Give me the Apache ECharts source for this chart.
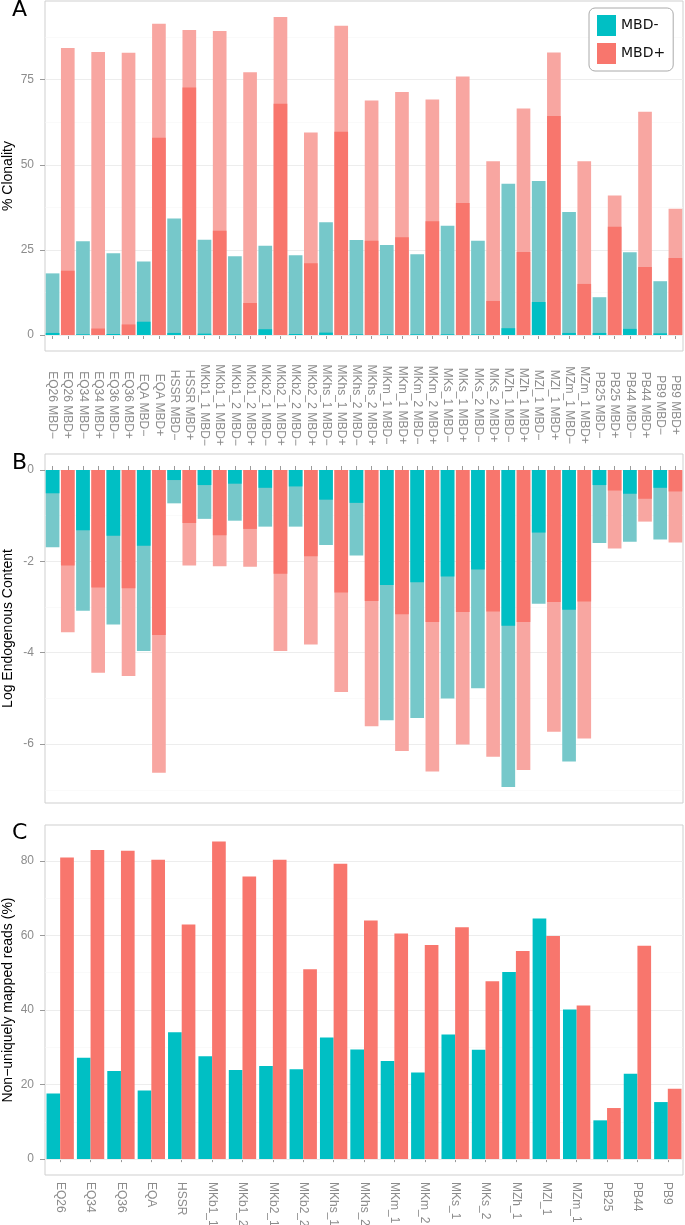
<!DOCTYPE html>
<html><head><meta charset="utf-8">
<script src="https://cdn.jsdelivr.net/npm/echarts@6/dist/echarts.min.js"></script>
<style>html,body{margin:0;padding:0;background:#fff}#c{width:685px;height:1225px}</style>
</head><body><div id="c"></div>
<script>
const samples = ['EQ26','EQ34','EQ36','EQA','HSSR','MKb1_1','MKb1_2','MKb2_1','MKb2_2','MKhs_1','MKhs_2','MKm_1','MKm_2','MKs_1','MKs_2','MZh_1','MZl_1','MZm_1','PB25','PB44','PB9'];

// Panel A: % Clonality (light = full bar, dark = overlaid lower part)
const clonLightMinus = [18.1,27.5,24.0,21.6,34.2,28.0,23.1,26.2,23.4,33.1,27.9,26.4,23.7,32.1,27.7,44.4,45.2,36.1,11.1,24.3,15.8];
const clonDarkMinus  = [0.6,0.2,0.3,3.9,0.6,0.4,0.2,1.7,0.3,0.7,0.2,0.2,0.2,0.2,0.2,2.0,9.7,0.6,0.6,1.8,0.5];
const clonLightPlus  = [84.3,83.1,82.9,91.4,89.6,89.3,77.2,93.4,59.5,90.8,68.9,71.4,69.2,75.9,51.0,66.5,83.0,51.0,41.0,65.6,37.1];
const clonDarkPlus   = [18.9,1.9,3.1,57.9,72.7,30.6,9.4,67.9,21.1,59.7,27.7,28.7,33.4,38.8,10.0,24.4,64.3,15.0,31.8,20.0,22.6];

// Panel B: Log Endogenous Content
const endoLightMinus = [-1.69,-3.08,-3.38,-3.96,-0.73,-1.07,-1.11,-1.24,-1.24,-1.64,-1.87,-5.48,-5.43,-5.00,-4.78,-6.94,-2.93,-6.38,-1.60,-1.57,-1.52];
const endoDarkMinus  = [-0.51,-1.32,-1.44,-1.66,-0.22,-0.33,-0.30,-0.39,-0.36,-0.65,-0.72,-2.52,-2.46,-2.33,-2.18,-3.41,-1.37,-3.06,-0.33,-0.52,-0.39];
const endoLightPlus  = [-3.55,-4.44,-4.51,-6.63,-2.09,-2.11,-2.12,-3.96,-3.82,-4.86,-5.61,-6.15,-6.60,-6.01,-6.28,-6.57,-5.73,-5.88,-1.72,-1.13,-1.59];
const endoDarkPlus   = [-2.09,-2.57,-2.59,-3.61,-1.16,-1.43,-1.29,-2.27,-1.89,-2.68,-2.87,-3.16,-3.33,-3.11,-3.10,-3.33,-2.89,-2.88,-0.45,-0.63,-0.47];

// Panel C: Non-uniquely mapped reads (%)
const nonUniqMinus = [17.6,27.2,23.6,18.4,34.0,27.6,23.9,25.0,24.1,32.6,29.4,26.3,23.2,33.4,29.3,50.2,64.5,40.1,10.4,22.9,15.3];
const nonUniqPlus  = [80.9,82.9,82.7,80.3,62.9,85.2,75.8,80.3,50.9,79.2,64.0,60.5,57.4,62.2,47.7,55.8,59.8,41.2,13.7,57.2,18.9];

// tick values
const aTicks = [0,25,50,75], aMinor = [12.5,37.5,62.5,87.5];
const bTicks = [0,-2,-4,-6], bMinor = [-1,-3,-5,-7];
const cTicks = [0,20,40,60,80], cMinor = [10,30,50,70];

const pairLabels = [];
samples.forEach(s => { pairLabels.push(s + ' MBD\u2212'); pairLabels.push(s + ' MBD+'); });
function asMinus(arr){ const o=[]; arr.forEach(v=>{o.push(v);o.push(null);}); return o; }
function asPlus(arr){ const o=[]; arr.forEach(v=>{o.push(null);o.push(v);}); return o; }

const TEAL='#00BFC4', RED='#F8766D', LTEAL='#76C8CA', LRED='#F8A6A1';
const GREY='#8c8c8c', FONT='Liberation Sans, Arial, sans-serif';

function gridLines(major, minor){
  return {silent:true, symbol:'none', z:1, animation:false, label:{show:false},
    data: major.map(v=>({yAxis:v, lineStyle:{color:'#ededed', width:1, type:'solid'}}))
      .concat(minor.map(v=>({yAxis:v, lineStyle:{color:'#f6f6f6', width:0.6, type:'solid'}})))};
}
function yAx(gi, min, max, ticks, name){
  return {type:'value', gridIndex:gi, min:min, max:max, name:name, nameLocation:'middle', nameGap:30,
    nameMoveOverlap:false,
    nameTextStyle:{color:'#000', fontSize:14, fontFamily:FONT},
    axisLine:{show:false},
    axisTick:{show:true, length:5, customValues:ticks, lineStyle:{color:'#9a9a9a'}},
    axisLabel:{customValues:ticks, color:GREY, fontSize:12, margin:11, fontFamily:FONT},
    splitLine:{show:false}};
}
function bar(name, xi, data, color, extra){
  return Object.assign({type:'bar', name:name, xAxisIndex:xi, yAxisIndex:xi, data:data, z:2,
    itemStyle:{color:color}, animation:false}, extra||{});
}
function grid(top, height){
  return {left:45, top:top, width:638, height:height, show:true, borderColor:'#cfcfcf', borderWidth:1,
    backgroundColor:'#fff', containLabel:false, outerBoundsMode:'none'};
}

const option = {
  backgroundColor:'#fff',
  animation:false,
  grid:[ grid(1, 350), grid(454, 349), grid(825, 350) ],
  legend:{data:['MBD-','MBD+'], orient:'vertical', left:589, top:8, padding:[7,8,7,8], itemGap:7,
    itemWidth:19, itemHeight:21, icon:'rect', borderColor:'#aaa', borderWidth:1, borderRadius:6,
    backgroundColor:'#fff', selectedMode:false,
    textStyle:{fontSize:14, fontFamily:'DejaVu Sans, sans-serif', color:'#111'}},
  xAxis:[
    {type:'category', gridIndex:0, data:pairLabels, axisLine:{show:false},
      axisTick:{show:true, length:4, alignWithLabel:true, interval:0, lineStyle:{color:'#9a9a9a'}},
      axisLabel:{rotate:-90, align:'center', margin:54, interval:0, color:GREY, fontSize:12, fontFamily:FONT},
      splitLine:{show:false}},
    {type:'category', gridIndex:1, data:pairLabels, position:'top', axisLine:{show:false},
      axisTick:{show:true, length:4, alignWithLabel:true, interval:0, lineStyle:{color:'#9a9a9a'}},
      axisLabel:{show:false}, splitLine:{show:false}},
    {type:'category', gridIndex:2, data:samples, axisLine:{show:false},
      axisTick:{show:true, length:3, alignWithLabel:true, interval:0, lineStyle:{color:'#9a9a9a'}},
      axisLabel:{rotate:-90, margin:7, interval:0, color:GREY, fontSize:12, fontFamily:FONT},
      splitLine:{show:false}}
  ],
  yAxis:[
    yAx(0, -4.7, 98.1, aTicks, '% Clonality'),
    yAx(1, -7.29, 0.35, bTicks, 'Log Endogenous Content'),
    yAx(2, -4.26, 89.6, cTicks, 'Non\u2212uniquely mapped reads (%)')
  ],
  graphic:[
    {type:'text', left:12, top:-1, style:{text:'A', fontSize:22, fontFamily:'DejaVu Sans, sans-serif', fill:'#000'}},
    {type:'text', left:12, top:452, style:{text:'B', fontSize:22, fontFamily:'DejaVu Sans, sans-serif', fill:'#000'}},
    {type:'text', left:12, top:822, style:{text:'C', fontSize:22, fontFamily:'DejaVu Sans, sans-serif', fill:'#000'}}
  ],
  series:[
    bar('aLightMinus', 0, asMinus(clonLightMinus), LTEAL, {barGap:'-100%', barCategoryGap:'10%', markLine:gridLines(aTicks, aMinor)}),
    bar('aLightPlus', 0, asPlus(clonLightPlus), LRED, {barGap:'-100%', barCategoryGap:'10%'}),
    bar('aDarkMinus', 0, asMinus(clonDarkMinus), TEAL, {barGap:'-100%', barCategoryGap:'10%', z:3}),
    bar('aDarkPlus', 0, asPlus(clonDarkPlus), RED, {barGap:'-100%', barCategoryGap:'10%', z:3}),

    bar('bLightMinus', 1, asMinus(endoLightMinus), LTEAL, {barGap:'-100%', barCategoryGap:'10%', markLine:gridLines(bTicks, bMinor)}),
    bar('bLightPlus', 1, asPlus(endoLightPlus), LRED, {barGap:'-100%', barCategoryGap:'10%'}),
    bar('bDarkMinus', 1, asMinus(endoDarkMinus), TEAL, {barGap:'-100%', barCategoryGap:'10%', z:3}),
    bar('bDarkPlus', 1, asPlus(endoDarkPlus), RED, {barGap:'-100%', barCategoryGap:'10%', z:3}),

    bar('MBD-', 2, nonUniqMinus, TEAL, {barGap:'0%', barCategoryGap:'10%', markLine:gridLines(cTicks, cMinor)}),
    bar('MBD+', 2, nonUniqPlus, RED, {barGap:'0%', barCategoryGap:'10%'})
  ]
};
const chart = echarts.init(document.getElementById('c'), null, {renderer:'canvas'});
chart.setOption(option);
</script>
</body></html>
